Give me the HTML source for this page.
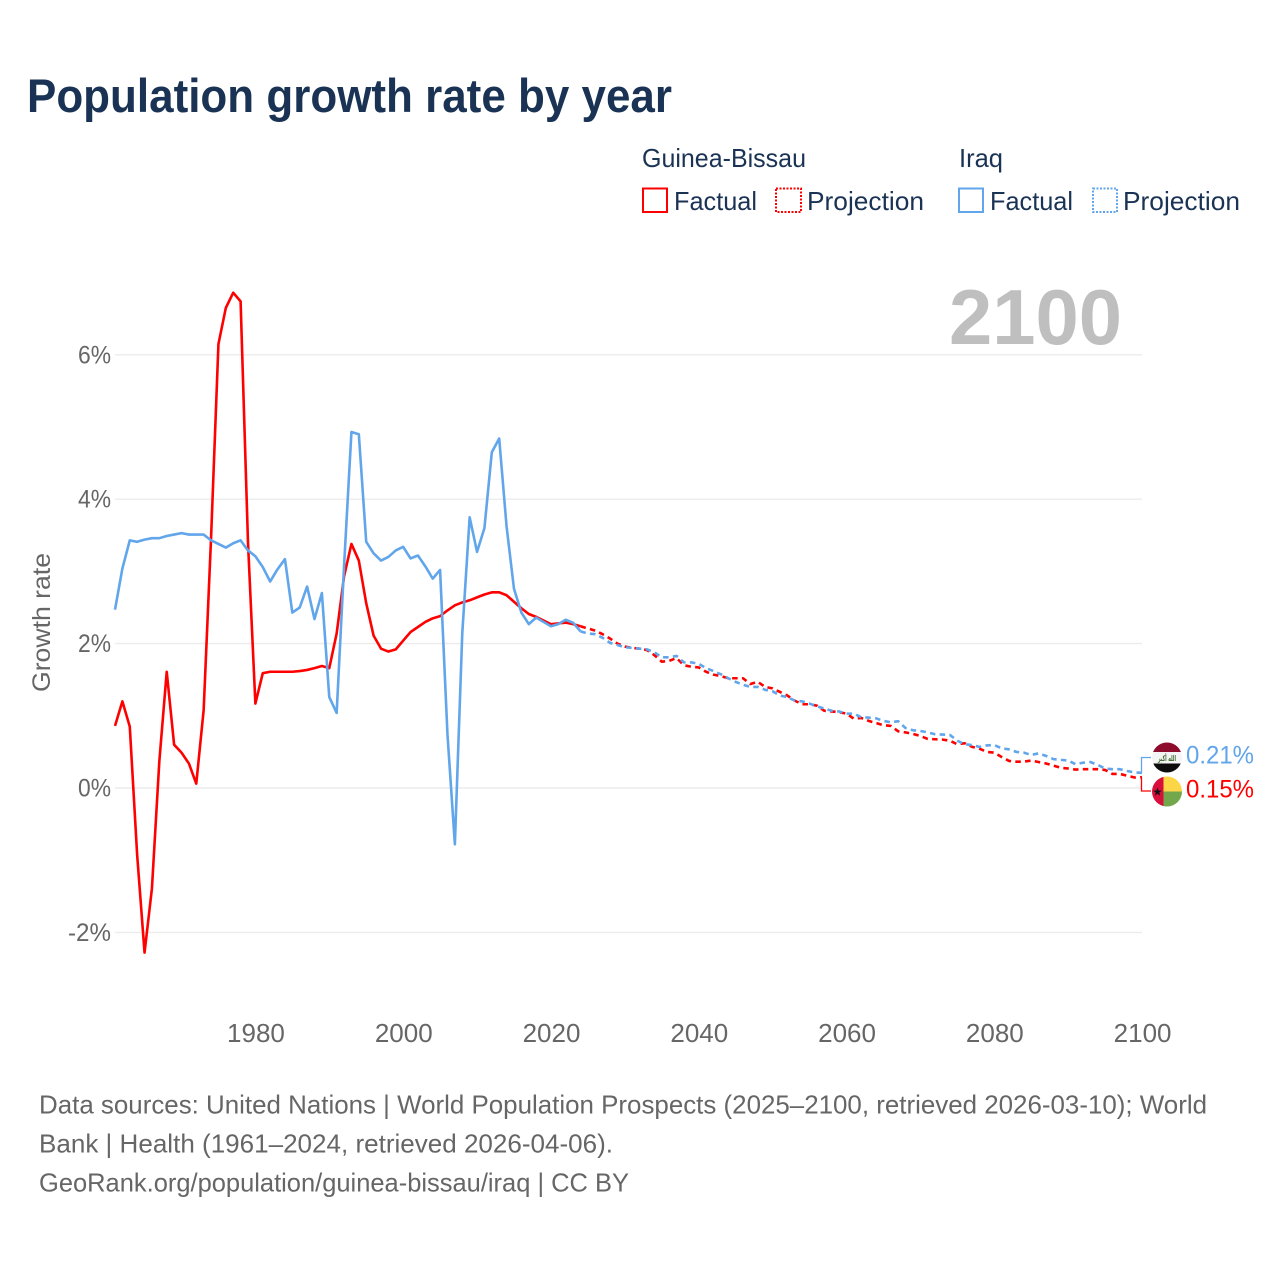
<!DOCTYPE html>
<html lang="en">
<head>
<meta charset="utf-8">
<title>Population growth rate by year</title>
<style>
html,body{margin:0;padding:0;background:#fff}
svg{display:block}
text{font-family:"Liberation Sans",sans-serif}
.legend{fill:#1a3354;font-size:26px}
.foot{fill:#666;font-size:26px}
</style>
</head>
<body>
<svg id="chart" xmlns="http://www.w3.org/2000/svg" width="1280" height="1280" viewBox="0 0 1280 1280">
  <rect x="0" y="0" width="1280" height="1280" fill="#fff"/>
  <text x="27" y="112" font-size="47" font-weight="700" fill="#1a3354" textLength="645" lengthAdjust="spacingAndGlyphs">Population growth rate by year</text>

  <g>
    <text class="legend" x="642" y="167" textLength="164" lengthAdjust="spacingAndGlyphs">Guinea-Bissau</text>
    <text class="legend" x="959" y="167" textLength="44" lengthAdjust="spacingAndGlyphs">Iraq</text>
    <rect x="643" y="188.5" width="24" height="23.5" fill="none" stroke="#ff0000" stroke-width="2"/>
    <text class="legend" x="674" y="210" textLength="83" lengthAdjust="spacingAndGlyphs">Factual</text>
    <rect x="776" y="188.5" width="25" height="23.5" fill="none" stroke="#ff0000" stroke-width="2" stroke-dasharray="2 1.5"/>
    <text class="legend" x="807" y="210" textLength="117" lengthAdjust="spacingAndGlyphs">Projection</text>
    <rect x="959" y="188.5" width="24" height="23.5" fill="none" stroke="#61a5eb" stroke-width="2"/>
    <text class="legend" x="990" y="210" textLength="83" lengthAdjust="spacingAndGlyphs">Factual</text>
    <rect x="1093" y="188.5" width="24" height="23.5" fill="none" stroke="#61a5eb" stroke-width="2" stroke-dasharray="2 1.5"/>
    <text class="legend" x="1123" y="210" textLength="117" lengthAdjust="spacingAndGlyphs">Projection</text>
  </g>

  <g id="grid"></g>
  <text x="949" y="344" font-size="78" font-weight="700" fill="#bfbfbf" textLength="173" lengthAdjust="spacingAndGlyphs">2100</text>
  <g id="yticks"></g>
  <g id="xticks"></g>
  <text transform="translate(50,622.5) rotate(-90)" text-anchor="middle" font-size="25" fill="#666" textLength="139" lengthAdjust="spacingAndGlyphs">Growth rate</text>
  <g id="series"></g>

  <g>
    <clipPath id="clip-iraq"><circle cx="1167" cy="757.5" r="15"/></clipPath>
    <g clip-path="url(#clip-iraq)">
      <rect x="1150" y="742" width="34" height="10" fill="#8e0c2c"/>
      <rect x="1150" y="752" width="34" height="11.5" fill="#f4f4f4"/>
      <rect x="1150" y="763.5" width="34" height="10" fill="#0c0c0c"/>
      <text x="1167" y="761" text-anchor="middle" font-size="8" font-weight="700" fill="#3f6b2c" textLength="18" lengthAdjust="spacingAndGlyphs" style="font-family:'DejaVu Sans',sans-serif">الله أكبر</text>
    </g>
  </g>
  <g>
    <clipPath id="clip-gb"><circle cx="1167" cy="791.5" r="15"/></clipPath>
    <g clip-path="url(#clip-gb)">
      <rect x="1150" y="776" width="13.5" height="32" fill="#d80f3a"/>
      <rect x="1163.5" y="776" width="20" height="15.5" fill="#fdd648"/>
      <rect x="1163.5" y="791.5" width="20" height="16.5" fill="#72a84b"/>
      <polygon points="1157.5,787.5 1158.6,790.6 1161.8,790.6 1159.2,792.6 1160.2,795.7 1157.5,793.8 1154.8,795.7 1155.8,792.6 1153.2,790.6 1156.4,790.6" fill="#111"/>
    </g>
  </g>
  <g id="labels"></g>

  <g>
    <text class="foot" x="39" y="1113.5" textLength="1168" lengthAdjust="spacingAndGlyphs">Data sources: United Nations | World Population Prospects (2025–2100, retrieved 2026-03-10); World</text>
    <text class="foot" x="39" y="1152.5" textLength="574" lengthAdjust="spacingAndGlyphs">Bank | Health (1961–2024, retrieved 2026-04-06).</text>
    <text class="foot" x="39" y="1191.5" textLength="590" lengthAdjust="spacingAndGlyphs">GeoRank.org/population/guinea-bissau/iraq | CC BY</text>
  </g>
</svg>
<script>
const factualStartYear = 1961;
const projectionStartYear = 2024;
const xTickYears = [1980, 2000, 2020, 2040, 2060, 2080, 2100];
const yTickValues = [6, 4, 2, 0, -2];
const yTickLabels = ["6%", "4%", "2%", "0%", "-2%"];

const guineaBissauFactual = [
  0.86,1.20,0.85,-0.93,-2.28,-1.39,0.37,1.61,0.60,0.49,
  0.34,0.06,1.08,3.46,6.15,6.65,6.86,6.74,3.40,1.17,
  1.59,1.61,1.61,1.61,1.61,1.62,1.635,1.66,1.69,1.66,
  2.14,2.93,3.38,3.15,2.56,2.11,1.93,1.89,1.92,2.04,
  2.16,2.23,2.30,2.35,2.38,2.46,2.53,2.57,2.60,2.64,
  2.68,2.71,2.71,2.67,2.58,2.49,2.41,2.37,2.32,2.27,
  2.28,2.29,2.27,2.24
];
const iraqFactual = [
  2.47,3.04,3.43,3.41,3.44,3.46,3.46,3.49,3.51,3.53,
  3.51,3.51,3.51,3.43,3.38,3.33,3.39,3.43,3.29,3.21,
  3.06,2.86,3.03,3.17,2.43,2.50,2.79,2.34,2.70,1.26,
  1.04,3.07,4.93,4.90,3.41,3.25,3.15,3.20,3.29,3.34,
  3.18,3.22,3.07,2.90,3.02,0.74,-0.78,2.14,3.75,3.27,
  3.60,4.65,4.84,3.62,2.76,2.43,2.27,2.36,2.30,2.24,
  2.27,2.33,2.29,2.17
];
const guineaBissauProjection = [
  2.24,2.21,2.18,2.13,2.07,2.00,1.96,1.94,1.93,1.91,
  1.84,1.75,1.76,1.80,1.70,1.68,1.67,1.61,1.57,1.55,
  1.52,1.52,1.52,1.44,1.47,1.40,1.38,1.33,1.28,1.21,
  1.16,1.16,1.14,1.07,1.06,1.05,1.03,0.96,0.97,0.93,
  0.90,0.87,0.86,0.785,0.77,0.75,0.72,0.68,0.675,0.67,
  0.655,0.605,0.62,0.57,0.545,0.50,0.49,0.43,0.375,0.365,
  0.365,0.38,0.36,0.34,0.31,0.28,0.27,0.255,0.26,0.26,
  0.26,0.25,0.195,0.195,0.17,0.145,0.15
];
const iraqProjection = [
  2.17,2.14,2.13,2.08,2.01,1.98,1.95,1.94,1.93,1.92,
  1.88,1.81,1.81,1.83,1.74,1.74,1.72,1.66,1.62,1.575,
  1.52,1.47,1.43,1.40,1.40,1.36,1.34,1.28,1.26,1.21,
  1.20,1.17,1.13,1.10,1.07,1.06,1.03,1.03,0.98,0.975,
  0.965,0.93,0.91,0.925,0.83,0.80,0.79,0.77,0.745,0.74,
  0.735,0.655,0.605,0.595,0.57,0.59,0.595,0.55,0.535,0.50,
  0.49,0.457,0.48,0.445,0.40,0.39,0.38,0.33,0.35,0.36,
  0.32,0.27,0.26,0.26,0.235,0.215,0.21
];
const endValueLabels = ["0.21%", "0.15%"];

const NS = "http://www.w3.org/2000/svg";
const RED = "#ff0000";
const BLUE = "#61a5eb";
function xScale(year) { return 115 + (year - 1961) * (1142 - 115) / 139; }
function yScale(v) { return 788 - v * 72.2; }
function make(tag, parent) {
  const el = document.createElementNS(NS, tag);
  document.getElementById(parent).appendChild(el);
  return el;
}
function linePath(values, startYear) {
  return values.map(function (v, i) {
    return (i ? "L" : "M") + xScale(startYear + i).toFixed(2) + " " + yScale(v).toFixed(2);
  }).join(" ");
}

yTickValues.forEach(function (v, i) {
  const line = make("line", "grid");
  
  
  line.setAttribute("x1", xScale(1961));
  line.setAttribute("x2", xScale(2100));
  line.setAttribute("y1", yScale(v));
  line.setAttribute("y2", yScale(v));
  line.setAttribute("stroke", "#ececec");
  line.setAttribute("stroke-width", "1.4");

  const label = make("text", "yticks");
  
  
  label.setAttribute("x", 111);
  label.setAttribute("y", yScale(v) + 8.5);
  label.setAttribute("text-anchor", "end");
  label.setAttribute("font-size", "25");
  label.setAttribute("fill", "#666");
  label.setAttribute("textLength", yTickLabels[i].length * 10 + 13);
  label.setAttribute("lengthAdjust", "spacingAndGlyphs");
  label.textContent = yTickLabels[i];
});

xTickYears.forEach(function (year) {
  const label = make("text", "xticks");
  
  
  label.setAttribute("x", xScale(year) + 0.6);
  label.setAttribute("y", 1042);
  label.setAttribute("text-anchor", "middle");
  label.setAttribute("font-size", "26");
  label.setAttribute("fill", "#666");
  label.textContent = String(year);
});

function drawSeries(values, startYear, color, dashed, name) {
  const path = make("path", "series");
  
  
  path.setAttribute("d", linePath(values, startYear));
  path.setAttribute("fill", "none");
  path.setAttribute("stroke", color);
  path.setAttribute("stroke-width", "2.6");
  path.setAttribute("stroke-linejoin", "round");
  if (dashed) path.setAttribute("stroke-dasharray", "5.5 4.3");
}
drawSeries(guineaBissauFactual, factualStartYear, RED, false, "guinea-bissau-factual-line");
drawSeries(guineaBissauProjection, projectionStartYear, RED, true, "guinea-bissau-projection-line");
drawSeries(iraqFactual, factualStartYear, BLUE, false, "iraq-factual-line");
drawSeries(iraqProjection, projectionStartYear, BLUE, true, "iraq-projection-line");

function drawConnector(lastValue, flagY, color, name) {
  const p = make("path", "labels");
  
  
  p.setAttribute("d", "M1141.5 " + yScale(lastValue).toFixed(1) + " V" + flagY + " H1151");
  p.setAttribute("fill", "none");
  p.setAttribute("stroke", color);
  p.setAttribute("stroke-width", "1.3");
}
drawConnector(iraqProjection[iraqProjection.length - 1], 757.5, BLUE, "iraq-label-connector");
drawConnector(guineaBissauProjection[guineaBissauProjection.length - 1], 791, RED, "guinea-bissau-label-connector");

const iraqLabel = make("text", "labels");


iraqLabel.setAttribute("x", 1186);
iraqLabel.setAttribute("y", 763.5);
iraqLabel.setAttribute("font-size", "25");
iraqLabel.setAttribute("fill", BLUE);
iraqLabel.setAttribute("textLength", "68");
iraqLabel.setAttribute("lengthAdjust", "spacingAndGlyphs");
iraqLabel.textContent = endValueLabels[0];

const gbLabel = make("text", "labels");


gbLabel.setAttribute("x", 1186);
gbLabel.setAttribute("y", 797.5);
gbLabel.setAttribute("font-size", "25");
gbLabel.setAttribute("fill", RED);
gbLabel.setAttribute("textLength", "68");
gbLabel.setAttribute("lengthAdjust", "spacingAndGlyphs");
gbLabel.textContent = endValueLabels[1];
</script>
</body>
</html>
